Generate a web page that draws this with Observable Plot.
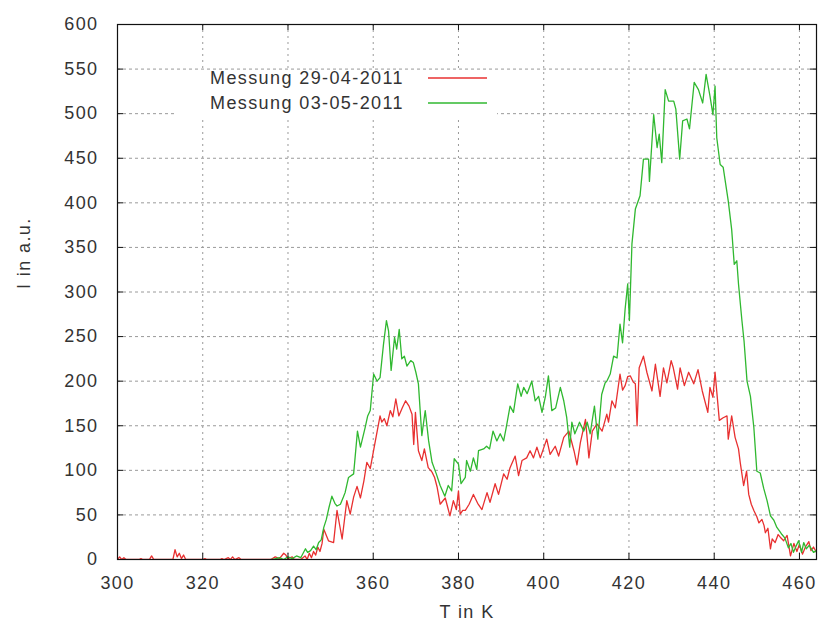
<!DOCTYPE html>
<html>
<head>
<meta charset="utf-8">
<script src="https://cdn.jsdelivr.net/npm/d3@7"></script>
<script src="https://cdn.jsdelivr.net/npm/@observablehq/plot@0.6"></script>
<style>
  html, body { margin: 0; padding: 0; background: #fff; }
</style>
</head>
<body>
<div id="chart"></div>
<script>
// Axis ticks
const xTicks = [300, 320, 340, 360, 380, 400, 420, 440, 460];
const yTicks = [0, 50, 100, 150, 200, 250, 300, 350, 400, 450, 500, 550, 600];

// Legend entries and line colours
const seriesNames = ["Messung 29-04-2011", "Messung 03-05-2011"];
const seriesColors = ["#e83030", "#30b830"];

// Measurement 29-04-2011: [temperature T in K, intensity I in a.u.]
const measA = [
  [300,0],[300.5,3],[301,0],[301.5,2],[302,0],[305,0],[305.5,1],[306,0],[307.5,0],[308,4],[308.5,0],
  [313,0],[313.5,11],[314,3],[314.5,7],[315,1],[315.5,5],[316,0],[320,0],[320.5,1],[321,0],[324,0],
  [324.5,1],[325,0],[326,2],[326.5,0],[327,3],[327.5,0],[328.5,2],[329,0],[336,0],[337,3],[338,1],
  [339,7],[339.5,5],[340,1],[341,3],[341.5,0],[343,0],[344,4],[344.5,0],[345,7],[345.5,2],[346,9],
  [346.5,5],[347,14],[347.5,9],[348,18],[348.4,34],[349.5,21],[350.7,19],[351.5,55],[352.7,23],
  [353.8,66],[354.6,51],[355.4,70],[356.2,82],[357,69],[357.8,88],[358.5,109],[359.3,102],[360.5,133],
  [361.6,161],[362,154],[362.6,158],[363.2,150],[364,167],[364.6,160],[365.3,180],[366,161],[366.8,170],
  [367.6,178],[368.4,172],[369.1,163],[369.5,129],[369.9,165],[370.6,122],[371.4,111],[372,124],
  [372.9,103],[373.8,98],[374.4,92],[375,81],[375.7,62],[376.9,69],[377.5,58],[378,49],[378.8,66],
  [379.5,56],[380,77],[380.4,51],[381,55],[381.6,55],[382.5,62],[383.5,73],[384.5,63],[385.5,56],
  [386.7,75],[387.4,64],[388.6,85],[389.4,73],[390.6,96],[391.4,90],[392.1,103],[393.3,116],[394.1,94],
  [394.9,111],[396,114],[396.8,122],[397.6,114],[398.4,126],[399.2,114],[400.7,135],[401.5,118],
  [402.7,127],[403.5,116],[404.7,137],[405.9,144],[407.1,122],[407.8,106],[408.6,131],[409.8,157],
  [410.6,114],[411.4,144],[412.5,152],[413.7,144],[414.8,163],[415.2,154],[416,178],[416.8,170],
  [417.9,208],[418.5,190],[419.1,195],[419.7,205],[420.3,206],[421,199],[421.5,197],[421.9,150],
  [422.4,215],[423.4,228],[424.2,210],[425.4,189],[426.2,219],[427.3,183],[428.1,215],[428.9,198],
  [429.9,223],[430.4,215],[431.4,191],[432,215],[433,195],[434,210],[435.2,197],[436.2,213],[437.2,189],
  [438.5,165],[439,193],[439.7,182],[440.2,210],[441.2,156],[442.1,159],[443,161],[443.3,135],
  [444.1,161],[444.9,137],[445.7,124],[446.1,109],[446.9,83],[447.6,99],[448.1,73],[448.7,62],
  [449.3,55],[450,48],[450.5,41],[451.2,45],[451.7,38],[452,30],[452.6,35],[453.2,12],[453.6,23],
  [454.3,19],[455,28],[455.5,25],[456.3,21],[457.1,27],[457.9,4],[458.7,18],[459.4,9],[460,17],
  [460.7,6],[461.4,14],[462.2,20],[462.7,10],[463.3,14],[464,8]
];

// Measurement 03-05-2011: [temperature T in K, intensity I in a.u.]
const measB = [
  [336,0],[336.5,0],[338,2],[339,0],[340,3],[341,1],[342,4],[343,2],[344.1,12],[344.6,8],[345.3,10],
  [346,15],[346.6,11],[347.2,19],[347.8,22],[348.4,36],[349,45],[349.6,58],[350.3,71],[351,63],
  [351.5,60],[352.3,62],[353,70],[353.4,75],[354.2,92],[355.4,96],[356.3,144],[357,126],[358.1,148],
  [358.7,161],[359.3,167],[360.1,208],[360.9,200],[361.6,204],[362.4,241],[363.1,268],[363.6,256],
  [364.2,212],[365,249],[365.5,236],[366.1,258],[366.7,225],[367.3,228],[367.9,217],[368.8,223],
  [369.4,221],[370,210],[370.6,197],[371.4,139],[372.2,167],[373,133],[373.8,109],[374.8,96],
  [375.7,83],[376.8,71],[377.6,83],[378.4,77],[379,113],[380,107],[380.6,85],[381.6,92],[381.9,111],
  [382.8,99],[383.5,114],[384.3,101],[384.7,122],[385.9,124],[386.6,127],[387.3,124],[388.1,144],
  [389,133],[389.8,141],[390.6,133],[391.2,148],[392.1,172],[392.9,165],[393.9,197],[394.7,183],
  [395.3,193],[396.1,186],[397.2,200],[398,178],[398.8,183],[399.6,165],[400.4,183],[401.1,206],
  [401.9,167],[402.8,170],[403.9,193],[404.7,178],[405.4,159],[406.1,126],[406.6,154],[407.3,141],
  [408.4,154],[409.4,144],[410.2,154],[410.9,141],[411.9,172],[412.7,135],[413.6,185],[414.4,198],
  [414.8,200],[415.6,208],[416.4,228],[417.2,226],[417.9,264],[418.5,243],[419.1,281],[419.7,309],
  [420.1,268],[420.7,354],[421.5,393],[422.6,408],[423.4,449],[424.6,449],[424.8,424],[425.8,499],
  [426.6,462],[427.1,477],[427.7,445],[428.5,527],[429.3,514],[430.5,514],[431,505],[431.9,449],
  [432.6,492],[433.6,494],[434.2,483],[435.3,535],[436.3,527],[437.3,512],[438.1,544],[439,520],
  [439.7,499],[440.2,531],[440.6,473],[441.4,443],[442.1,440],[443.3,402],[444.1,370],[444.7,331],
  [445.3,335],[445.7,309],[446.5,268],[447,245],[447.7,200],[448.5,183],[449.3,148],[450,99],
  [450.8,97],[451.6,80],[452.4,66],[453.2,49],[454,44],[454.7,36],[455.3,32],[455.9,28],[456.6,24],
  [457.4,13],[458,18],[458.6,8],[459.2,15],[459.8,21],[460.5,8],[461,19],[461.6,12],[462.3,16],
  [463.3,8],[464,10]
];

// Layout
const W = 819, H = 630;
const mL = 117, mR = 3, mT = 24, mB = 71;
const innerW = W - mL - mR, innerH = H - mT - mB;
const tickLen = 6;
const font = "'Liberation Sans', Arial, Helvetica, sans-serif";
const textColor = "#333";

const toRows = (arr) => arr.map(([t, v]) => ({t, v}));

const chart = Plot.plot({
  width: W,
  height: H,
  marginLeft: mL,
  marginRight: mR,
  marginTop: mT,
  marginBottom: mB,
  style: {
    fontFamily: font,
    fontSize: "18px",
    color: textColor,
    background: "#fff",
    letterSpacing: "1.4px",
    overflow: "visible"
  },
  x: {domain: [300, 464]},
  y: {domain: [0, 600]},
  marks: [
    // dotted grid
    Plot.gridX(xTicks, {stroke: "#9a9a9a", strokeOpacity: 1, strokeWidth: 1, strokeDasharray: "2,4"}),
    Plot.gridY(yTicks, {stroke: "#9a9a9a", strokeOpacity: 1, strokeWidth: 1, strokeDasharray: "3,3"}),
    // measured curves
    Plot.line(toRows(measA), {x: "t", y: "v", stroke: seriesColors[0], strokeWidth: 1.3, clip: true}),
    Plot.line(toRows(measB), {x: "t", y: "v", stroke: seriesColors[1], strokeWidth: 1.3, clip: true}),
    // inward ticks on all four sides
    Plot.tickX(xTicks, {x: d => d, insetTop: innerH - tickLen, stroke: "#111"}),
    Plot.tickX(xTicks, {x: d => d, insetBottom: innerH - tickLen, stroke: "#111"}),
    Plot.tickY(yTicks, {y: d => d, insetRight: innerW - tickLen, stroke: "#111"}),
    Plot.tickY(yTicks, {y: d => d, insetLeft: innerW - tickLen, stroke: "#111"}),
    // tick labels
    Plot.axisX(xTicks, {tickSize: 0, tickPadding: 17, label: null, fontSize: 18, fill: textColor}),
    Plot.axisY(yTicks, {tickSize: 0, tickPadding: 19, label: null, fontSize: 18, fill: textColor}),
    // axis titles
    Plot.text(["T in K"], {frameAnchor: "bottom", dy: 58, fontSize: 18, fill: textColor}),
    Plot.text(["I in a.u."], {frameAnchor: "left", dx: -93, dy: -3, rotate: -90, fontSize: 18, fill: textColor}),
    // border
    Plot.frame({stroke: "#111", strokeWidth: 1.2})
  ]
});

document.getElementById("chart").appendChild(chart);

// Key box inside the plot area
const svg = d3.select(chart);
const key = svg.append("g")
  .attr("font-family", font)
  .attr("font-size", 18)
  .attr("fill", textColor)
  .attr("text-anchor", "start");
key.append("rect")
  .attr("x", 175).attr("y", 70).attr("width", 322).attr("height", 46)
  .attr("fill", "#fff");
seriesNames.forEach((name, i) => {
  const cy = 78 + i * 25;
  key.append("text")
    .attr("x", 210).attr("y", cy).attr("dy", "0.35em")
    .attr("text-anchor", "start")
    .text(name);
  key.append("line")
    .attr("x1", 428).attr("x2", 487).attr("y1", cy).attr("y2", cy)
    .attr("stroke", seriesColors[i]).attr("stroke-width", 1.3);
});
</script>
</body>
</html>
